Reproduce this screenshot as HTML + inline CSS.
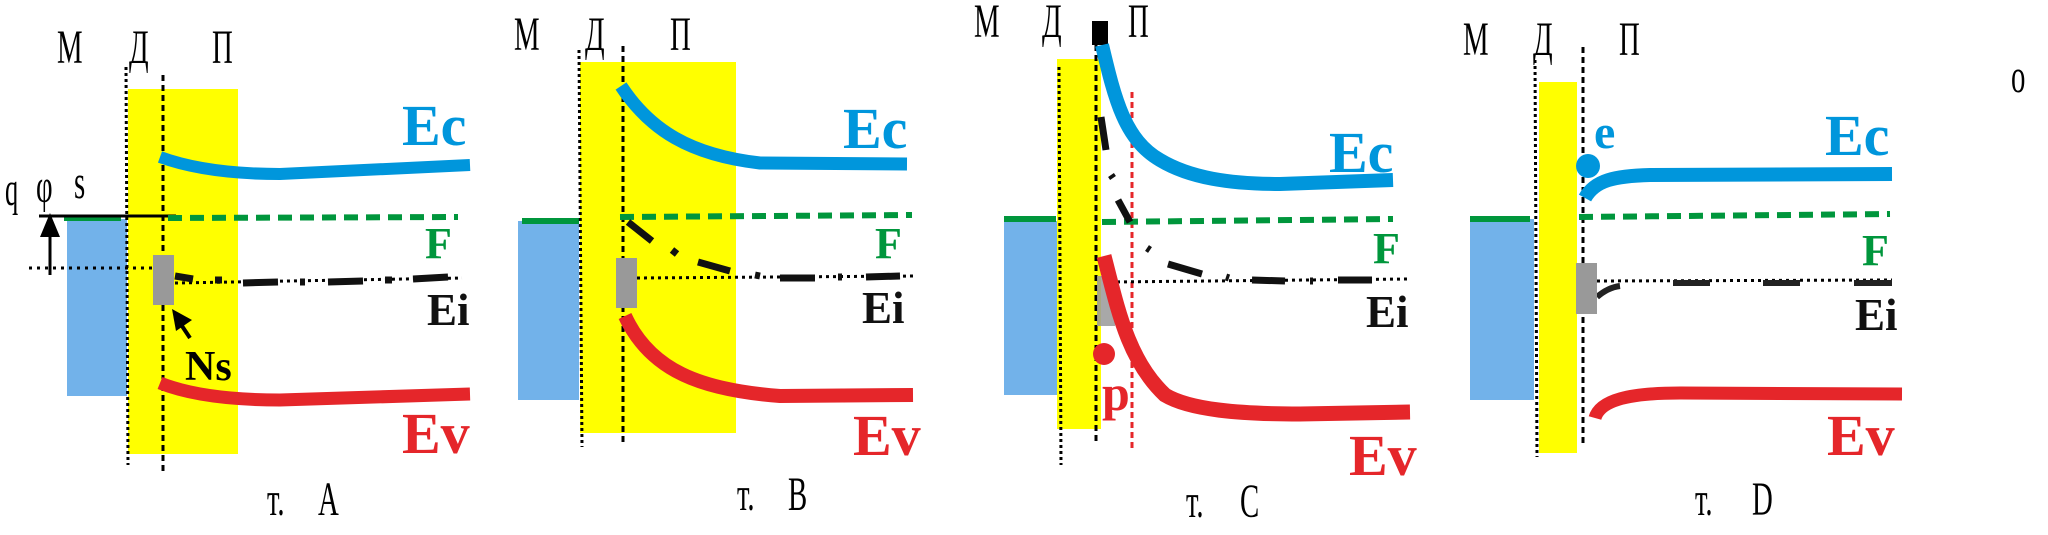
<!DOCTYPE html>
<html><head><meta charset="utf-8"><style>
html,body{margin:0;padding:0;background:#fff;width:2048px;height:535px;overflow:hidden}
svg{display:block}
.cy{font-family:"Liberation Serif","DejaVu Serif",serif;font-size:48px;fill:#000}
.lb{font-family:"Liberation Serif","DejaVu Serif",serif;font-weight:bold}
</style></head><body>
<svg width="2048" height="535" viewBox="0 0 2048 535" xmlns="http://www.w3.org/2000/svg">
<!-- ===== Panel A ===== -->
<g>
<rect x="128" y="89" width="110" height="365" fill="#ffff00"/>
<rect x="67" y="219" width="60" height="177" fill="#72b2ea"/>
<rect x="64" y="215" width="57" height="6" fill="#00963c"/>
<line x1="39" y1="216" x2="176" y2="216" stroke="#000" stroke-width="3"/>
<line x1="29" y1="268" x2="170" y2="268" stroke="#000" stroke-width="3" stroke-dasharray="3,5"/>
<line x1="126" y1="67" x2="128" y2="465" stroke="#000" stroke-width="3" stroke-dasharray="3,3"/>
<line x1="163" y1="75" x2="163" y2="472" stroke="#000" stroke-width="3" stroke-dasharray="6,4"/>
<line x1="168" y1="218" x2="458" y2="217" stroke="#00963c" stroke-width="6" stroke-dasharray="14,8"/>
<path d="M160,157 C190,168 230,174 280,174 L470,165" fill="none" stroke="#0096dc" stroke-width="12"/>
<path d="M160,383 C190,395 230,400 280,400 L470,394" fill="none" stroke="#e5262a" stroke-width="13"/>
<line x1="175" y1="283" x2="462" y2="278" stroke="#000" stroke-width="3" stroke-dasharray="3,4"/>
<path d="M175,276 L193,279 M215,280 L222,280 M243,283 L278,282 M300,282 L305,282 M328,282 L363,281 M385,280 L392,280 M413,279 L448,277" stroke="#111" stroke-width="7" fill="none"/>
<rect x="153" y="255" width="21" height="50" fill="#999"/>
<line x1="50" y1="275" x2="50" y2="230" stroke="#000" stroke-width="3"/>
<polygon points="40,237 50,213 60,237" fill="#000"/>
<line x1="190" y1="338" x2="178" y2="320" stroke="#000" stroke-width="4"/>
<polygon points="172,309 192,320 176,331" fill="#000"/>
<text class="lb" x="185" y="380" font-size="42">Ns</text>
<text class="cy" transform="translate(5,205) scale(0.55,1)" font-size="52">q</text>
<text class="cy" transform="translate(36,202) scale(0.6,1)" font-size="50">φ</text>
<text class="cy" transform="translate(74,198) scale(0.6,1)" font-size="24">s</text>
<text class="cy" transform="translate(57,63) scale(0.6,1)">М</text>
<text class="cy" transform="translate(129,63) scale(0.6,1)">Д</text>
<text class="cy" transform="translate(212,63) scale(0.6,1)">П</text>
<text class="cy" transform="translate(267,515) scale(0.6,1)" font-size="50">т.</text>
<text class="cy" transform="translate(318,515) scale(0.6,1)" font-size="58">А</text>
<text class="lb" x="402" y="145" font-size="58" fill="#0096dc">Ec</text>
<text class="lb" x="425" y="258" font-size="44" fill="#00963c">F</text>
<text class="lb" x="427" y="325" font-size="45" fill="#111">Ei</text>
<text class="lb" x="402" y="453" font-size="58" fill="#e5262a">Ev</text>
</g>
<!-- ===== Panel B ===== -->
<g>
<rect x="580" y="62" width="156" height="371" fill="#ffff00"/>
<rect x="518" y="221" width="61" height="179" fill="#72b2ea"/>
<rect x="522" y="218" width="57" height="6" fill="#00963c"/>
<line x1="579" y1="50" x2="582" y2="447" stroke="#000" stroke-width="3" stroke-dasharray="3,3"/>
<line x1="623" y1="46" x2="623" y2="445" stroke="#000" stroke-width="3" stroke-dasharray="6,4"/>
<line x1="620" y1="217" x2="912" y2="215" stroke="#00963c" stroke-width="6" stroke-dasharray="14,8"/>
<path d="M621,86 C650,130 690,155 760,163 L907,164" fill="none" stroke="#0096dc" stroke-width="13"/>
<path d="M625,316 C650,370 700,390 780,396 L913,395" fill="none" stroke="#e5262a" stroke-width="14"/>
<line x1="637" y1="278" x2="915" y2="276" stroke="#000" stroke-width="3" stroke-dasharray="3,4"/>
<path d="M628,222 L652,241 M672,250 L677,254 M698,262 L730,271 M755,275 L760,276 M780,278 L815,278 M838,277 L842,277 M866,277 L900,276" stroke="#111" stroke-width="7" fill="none"/>
<rect x="616" y="258" width="21" height="50" fill="#999"/>
<text class="cy" transform="translate(514,50) scale(0.6,1)">М</text>
<text class="cy" transform="translate(585,50) scale(0.6,1)">Д</text>
<text class="cy" transform="translate(670,50) scale(0.6,1)">П</text>
<text class="cy" transform="translate(737,510) scale(0.6,1)" font-size="50">т.</text>
<text class="cy" transform="translate(788,510) scale(0.6,1)" font-size="58">В</text>
<text class="lb" x="843" y="148" font-size="58" fill="#0096dc">Ec</text>
<text class="lb" x="875" y="258" font-size="44" fill="#00963c">F</text>
<text class="lb" x="862" y="323" font-size="45" fill="#111">Ei</text>
<text class="lb" x="853" y="455" font-size="58" fill="#e5262a">Ev</text>
</g>
<!-- ===== Panel C ===== -->
<g>
<rect x="1004" y="221" width="54" height="174" fill="#72b2ea"/>
<rect x="1004" y="216" width="52" height="6" fill="#00963c"/>
<rect x="1057" y="59" width="44" height="370" fill="#ffff00"/>
<line x1="1059" y1="67" x2="1061" y2="465" stroke="#000" stroke-width="3" stroke-dasharray="3,3"/>
<line x1="1096" y1="45" x2="1096" y2="445" stroke="#000" stroke-width="3" stroke-dasharray="6,4"/>
<rect x="1092" y="21" width="16" height="24" fill="#000"/>
<line x1="1132" y1="92" x2="1132" y2="452" stroke="#e5262a" stroke-width="3" stroke-dasharray="6,4"/>
<line x1="1102" y1="222" x2="1393" y2="219" stroke="#00963c" stroke-width="6" stroke-dasharray="14,8"/>
<path d="M1102,45 C1115,100 1125,140 1160,160 C1190,178 1230,184 1280,184 L1393,180" fill="none" stroke="#0096dc" stroke-width="14"/>
<line x1="1110" y1="282" x2="1407" y2="279" stroke="#000" stroke-width="3" stroke-dasharray="3,4"/>
<path d="M1101,117 L1106,150 M1111,175 L1113,178 M1118,200 L1130,222 M1147,248 L1150,250 M1168,264 L1202,274 M1226,277 L1229,278 M1252,280 L1285,281 M1310,281 L1313,281 M1338,280 L1372,280" stroke="#111" stroke-width="7" fill="none"/>
<rect x="1097" y="276" width="18" height="50" fill="#999" opacity="0.85"/>
<path d="M1104,256 C1118,310 1128,360 1165,395 C1190,410 1240,414 1300,414 L1410,412" fill="none" stroke="#e5262a" stroke-width="15"/>
<circle cx="1104" cy="354" r="11" fill="#e5262a"/>
<text class="lb" x="1102" y="410" font-size="50" fill="#e5262a">p</text>
<text class="cy" transform="translate(974,37) scale(0.6,1)">М</text>
<text class="cy" transform="translate(1042,37) scale(0.6,1)">Д</text>
<text class="cy" transform="translate(1128,37) scale(0.6,1)">П</text>
<text class="cy" transform="translate(1186,517) scale(0.6,1)" font-size="50">т.</text>
<text class="cy" transform="translate(1240,517) scale(0.6,1)" font-size="58">С</text>
<text class="lb" x="1329" y="172" font-size="58" fill="#0096dc">Ec</text>
<text class="lb" x="1373" y="263" font-size="44" fill="#00963c">F</text>
<text class="lb" x="1366" y="327" font-size="45" fill="#111">Ei</text>
<text class="lb" x="1349" y="475" font-size="58" fill="#e5262a">Ev</text>
</g>
<!-- ===== Panel D ===== -->
<g>
<rect x="1470" y="219" width="64" height="181" fill="#72b2ea"/>
<rect x="1470" y="216" width="60" height="6" fill="#00963c"/>
<rect x="1539" y="82" width="38" height="371" fill="#ffff00"/>
<line x1="1535" y1="60" x2="1537" y2="457" stroke="#000" stroke-width="3" stroke-dasharray="3,3"/>
<line x1="1583" y1="47" x2="1583" y2="445" stroke="#000" stroke-width="3" stroke-dasharray="6,4"/>
<line x1="1579" y1="217" x2="1890" y2="214" stroke="#00963c" stroke-width="6" stroke-dasharray="14,8"/>
<path d="M1585,198 C1595,180 1615,176 1650,175 L1892,174" fill="none" stroke="#0096dc" stroke-width="14"/>
<circle cx="1588" cy="166" r="12" fill="#0096dc"/>
<text class="lb" x="1594" y="148" font-size="48" fill="#0096dc">e</text>
<path d="M1595,418 C1600,400 1630,393 1680,393 L1902,394" fill="none" stroke="#e5262a" stroke-width="13"/>
<line x1="1597" y1="281" x2="1892" y2="280" stroke="#000" stroke-width="3" stroke-dasharray="3,4"/>
<path d="M1597,297 C1605,290 1612,287 1620,286 M1673,283 L1710,283 M1763,283 L1800,283 M1854,283 L1892,283" stroke="#222" stroke-width="6" fill="none"/>
<rect x="1576" y="263" width="21" height="51" fill="#999"/>
<text class="cy" transform="translate(1463,55) scale(0.6,1)">М</text>
<text class="cy" transform="translate(1533,55) scale(0.6,1)">Д</text>
<text class="cy" transform="translate(1619,55) scale(0.6,1)">П</text>
<text class="cy" transform="translate(1695,515) scale(0.6,1)" font-size="50">т.</text>
<text class="cy" transform="translate(1752,515) scale(0.6,1)" font-size="58">D</text>
<text class="lb" x="1825" y="155" font-size="58" fill="#0096dc">Ec</text>
<text class="lb" x="1862" y="265" font-size="44" fill="#00963c">F</text>
<text class="lb" x="1855" y="330" font-size="45" fill="#111">Ei</text>
<text class="lb" x="1827" y="455" font-size="58" fill="#e5262a">Ev</text>
</g>
<text class="cy" transform="translate(2011,92) scale(0.6,1)" font-size="18">o</text>
</svg>
</body></html>
